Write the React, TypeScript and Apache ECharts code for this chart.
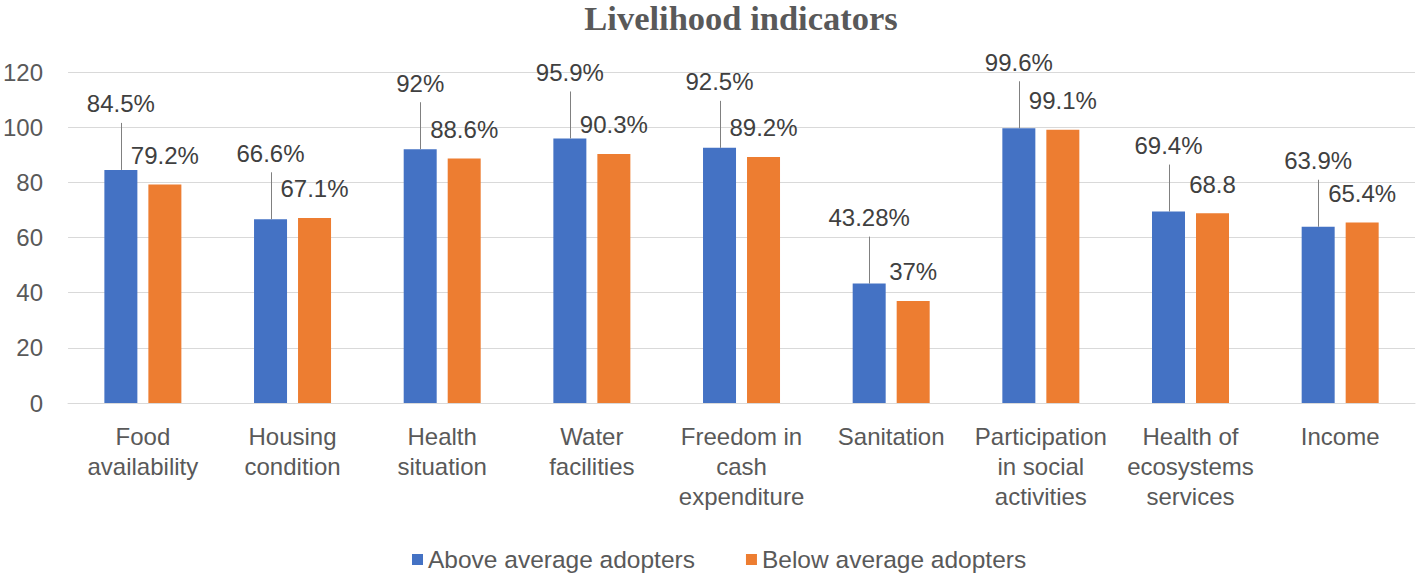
import React, { useEffect, useRef } from "react";
import * as echarts from "echarts";

const categories = [
  "Food\navailability",
  "Housing\ncondition",
  "Health\nsituation",
  "Water\nfacilities",
  "Freedom in\ncash\nexpenditure",
  "Sanitation",
  "Participation\nin social\nactivities",
  "Health of\necosystems\nservices",
  "Income",
];

const aboveValues = [84.5, 66.6, 92, 95.9, 92.5, 43.28, 99.6, 69.4, 63.9];
const belowValues = [79.2, 67.1, 88.6, 90.3, 89.2, 37, 99.1, 68.8, 65.4];

const aboveLabels = ["84.5%", "66.6%", "92%", "95.9%", "92.5%", "43.28%", "99.6%", "69.4%", "63.9%"];
const belowLabels = ["79.2%", "67.1%", "88.6%", "90.3%", "89.2%", "37%", "99.1%", "68.8", "65.4%"];

const seriesNames = ["Above average adopters", "Below average adopters"];
const yTicks = { min: 0, max: 120, interval: 20 };
const titleText = "Livelihood indicators";

const FONT = '"Liberation Sans", Arial, sans-serif';
const BAR_W = 33;
const GAP = 11;

export default function App() {
  const ref = useRef<HTMLDivElement>(null);

  useEffect(() => {
    if (!ref.current) return;
    const chart = echarts.init(ref.current, null, { renderer: "svg" });
    const option: any = {
      animation: false,
      backgroundColor: "#ffffff",
      graphic: [
        {
          type: "text",
          x: 741,
          y: 18,
          style: {
            text: titleText,
            font: 'bold 34.5px "Liberation Serif", "Times New Roman", serif',
            fill: "#595959",
            textAlign: "center",
            textVerticalAlign: "middle",
          },
        },
      ],
      legend: {
        data: seriesNames,
        left: 412,
        top: 547,
        padding: 0,
        itemWidth: 11,
        itemHeight: 11,
        itemGap: 51,
        icon: "rect",
        textStyle: { fontFamily: FONT, fontSize: 24.5, color: "#595959" },
      },
      grid: { left: 67, right: 3, top: 72, bottom: 174, containLabel: false },
      xAxis: {
        type: "category",
        data: categories,
        axisTick: { show: false },
        axisLine: { show: true, lineStyle: { color: "#d9d9d9", width: 1 } },
        axisLabel: {
          interval: 0,
          margin: 18,
          fontFamily: FONT,
          fontSize: 24,
          lineHeight: 30,
          color: "#595959",
        },
      },
      yAxis: {
        type: "value",
        min: yTicks.min,
        max: yTicks.max,
        interval: yTicks.interval,
        axisLine: { show: false },
        axisTick: { show: false },
        splitLine: { lineStyle: { color: "#d9d9d9", width: 1 } },
        axisLabel: { margin: 25, fontFamily: FONT, fontSize: 24, color: "#595959" },
      },
      series: [
        {
          name: seriesNames[0],
          type: "bar",
          data: aboveValues,
          barWidth: BAR_W,
          barGap: (GAP / BAR_W) * 100 + "%",
          itemStyle: { color: "#4472C4" },
          label: {
            show: true,
            position: "top",
            distance: 54,
            fontFamily: FONT,
            fontSize: 24,
            color: "#404040",
            formatter: (p: any) => aboveLabels[p.dataIndex],
          },
        },
        {
          name: seriesNames[1],
          type: "bar",
          data: belowValues,
          barWidth: BAR_W,
          barGap: (GAP / BAR_W) * 100 + "%",
          itemStyle: { color: "#ED7D31" },
          label: {
            show: true,
            position: "top",
            distance: 17,
            fontFamily: FONT,
            fontSize: 24,
            color: "#404040",
            formatter: (p: any) => belowLabels[p.dataIndex],
          },
        },
        {
          name: "leader",
          type: "custom",
          data: aboveValues.map((v, i) => [i, v]),
          encode: { x: 0, y: 1 },
          silent: true,
          z: 5,
          renderItem: (params: any, api: any) => {
            const pt = api.coord([api.value(0), api.value(1)]);
            const x = Math.round(pt[0] - (BAR_W + GAP) / 2) + 0.5;
            return {
              type: "line",
              shape: { x1: x, y1: pt[1], x2: x, y2: pt[1] - 47 },
              style: { stroke: "#808080", lineWidth: 1 },
            };
          },
        },
      ],
    };
    chart.setOption(option);
    return () => chart.dispose();
  }, []);

  return (
    <div
      ref={ref}
      style={{ position: "fixed", left: 0, top: 0, width: 1418, height: 577, background: "#fff" }}
    />
  );
}
